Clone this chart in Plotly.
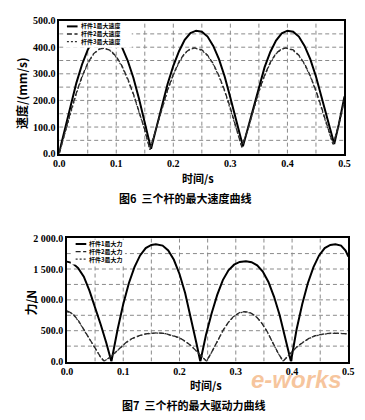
import plotly.graph_objects as go

W, H = 365, 420

# ---------------- data: 图6 velocity (mm/s) ----------------
t_v1 = [0, 0.01, 0.02, 0.03, 0.04, 0.05, 0.06, 0.07, 0.08, 0.09, 0.10, 0.11, 0.12, 0.13, 0.14, 0.15, 0.161,
        0.17, 0.18, 0.19, 0.20, 0.21, 0.22, 0.23, 0.24, 0.25, 0.26, 0.27, 0.28, 0.29, 0.30, 0.31, 0.322,
        0.33, 0.34, 0.35, 0.36, 0.37, 0.38, 0.39, 0.40, 0.41, 0.42, 0.43, 0.44, 0.45, 0.46, 0.47, 0.482, 0.49, 0.50]
v1 = [5, 95, 185, 265, 335, 390, 428, 452, 460, 455, 435, 400, 350, 285, 205, 115, 18,
      95, 180, 262, 330, 385, 428, 453, 462, 458, 440, 405, 355, 290, 210, 125, 28,
      90, 170, 255, 325, 382, 425, 452, 462, 458, 440, 405, 355, 290, 210, 130, 36, 110, 215]

t_v2 = [0, 0.01, 0.02, 0.03, 0.04, 0.05, 0.06, 0.07, 0.077, 0.08, 0.09, 0.10, 0.11, 0.12, 0.13, 0.14, 0.15, 0.159,
        0.17, 0.18, 0.19, 0.20, 0.21, 0.22, 0.23, 0.237, 0.24, 0.25, 0.26, 0.27, 0.28, 0.29, 0.30, 0.31, 0.32,
        0.33, 0.34, 0.35, 0.36, 0.37, 0.38, 0.39, 0.397, 0.40, 0.41, 0.42, 0.43, 0.44, 0.45, 0.46, 0.47, 0.48, 0.49, 0.50]
v2 = [0, 80, 158, 228, 290, 340, 375, 393, 397, 396, 388, 365, 330, 282, 225, 160, 90, 15,
      95, 170, 240, 298, 345, 378, 394, 397, 396, 390, 370, 338, 293, 237, 172, 100, 25,
      88, 162, 235, 295, 343, 377, 394, 397, 396, 390, 370, 338, 293, 237, 172, 100, 35, 110, 205]
v3 = [0, 78, 155, 225, 287, 338, 373, 392, 396, 395, 386, 362, 327, 279, 222, 157, 88, 14,
      92, 167, 237, 295, 342, 376, 393, 396, 395, 388, 368, 335, 290, 234, 169, 97, 24,
      85, 159, 232, 292, 340, 375, 393, 396, 395, 388, 368, 335, 290, 234, 169, 97, 33, 107, 200]

# ---------------- data: 图7 force (N) ----------------
t_f1 = [0, 0.01, 0.02, 0.03, 0.04, 0.05, 0.06, 0.07, 0.079,
        0.09, 0.10, 0.11, 0.12, 0.13, 0.14, 0.15, 0.158, 0.17, 0.18, 0.19, 0.20, 0.21, 0.22, 0.23, 0.237,
        0.247, 0.257, 0.267, 0.277, 0.287, 0.297, 0.307, 0.318, 0.328, 0.338, 0.348, 0.358, 0.368, 0.378, 0.388, 0.398,
        0.408, 0.418, 0.428, 0.438, 0.448, 0.458, 0.468, 0.477, 0.487, 0.495, 0.50]
f1 = [1620, 1595, 1515, 1375, 1150, 890, 600, 300, 0,
      520, 930, 1270, 1530, 1720, 1840, 1890, 1900, 1880, 1800, 1650, 1420, 1110, 730, 300, 0,
      430, 780, 1080, 1320, 1480, 1570, 1615, 1625, 1610, 1560, 1460, 1290, 1050, 750, 390, 0,
      520, 930, 1270, 1530, 1720, 1840, 1890, 1900, 1880, 1800, 1700]

t_f2 = [0, 0.01, 0.02, 0.03, 0.04, 0.05, 0.06, 0.066, 0.075, 0.085, 0.095, 0.105, 0.115, 0.125,
        0.14, 0.16, 0.175, 0.19, 0.20, 0.21, 0.22, 0.23, 0.24, 0.248,
        0.257, 0.267, 0.277, 0.287, 0.297, 0.307, 0.316, 0.325, 0.335, 0.345, 0.355, 0.365, 0.375, 0.384,
        0.392, 0.40, 0.41, 0.42, 0.43, 0.44, 0.455, 0.47, 0.485, 0.50]
f2 = [820, 780, 670, 520, 370, 220, 70, 5, 60, 140, 230, 310, 370, 410,
      450, 465, 455, 420, 385, 330, 260, 170, 70, 5,
      150, 330, 500, 640, 740, 795, 810, 795, 740, 640, 500, 320, 140, 5,
      90, 160, 250, 320, 375, 415, 445, 460, 460, 450]
f3 = [810, 772, 662, 515, 365, 215, 68, 8, 58, 137, 226, 305, 365, 405,
      447, 462, 452, 417, 382, 327, 258, 168, 68, 6,
      148, 326, 496, 636, 736, 790, 805, 790, 736, 636, 496, 318, 138, 6,
      88, 158, 248, 318, 372, 412, 442, 457, 458, 448]

# axis ranges / tick steps (labels: 0.0..0.5, 0.0..500.0, 0.0..2 000.0)
t_range, t_step, t_minor = [0, 0.5], 0.1, 0.05
v_range, v_step, v_minor = [0, 500], 100, 50
f_range, f_step, f_minor = [0, 2000], 500, 250

v_names = ["杆件1最大速度", "杆件2最大速度", "杆件3最大速度"]
f_names = ["杆件1最大力", "杆件2最大力", "杆件3最大力"]

# ---------------- figure ----------------
def px(x):
    return x / W

def py(y):
    return 1 - y / H

CJK = "Noto Sans CJK SC"
styles = [dict(color="black", width=2.0, dash="solid"),
          dict(color="#222", width=1.3, dash="5px,2.5px"),
          dict(color="#333", width=1.2, dash="2px,2px")]

fig = go.Figure()

# dashed grid at every minor step, built from the axis ranges, drawn first (under the curves)
def grid_trace(xr, xs, yr, ys, xa, ya):
    gx, gy = [], []
    n = int(round((xr[1] - xr[0]) / xs))
    for i in range(1, n):
        x = xr[0] + i * xs
        gx += [x, x, None]
        gy += [yr[0], yr[1], None]
    m = int(round((yr[1] - yr[0]) / ys))
    for j in range(1, m):
        y = yr[0] + j * ys
        gx += [xr[0], xr[1], None]
        gy += [y, y, None]
    fig.add_trace(go.Scatter(x=gx, y=gy, mode="lines", xaxis=xa, yaxis=ya, showlegend=False,
                             hoverinfo="skip", line=dict(color="#8a8a8a", width=1, dash="4px,3px")))

grid_trace(t_range, t_minor, v_range, v_minor, "x", "y")
grid_trace(t_range, t_minor, f_range, f_minor, "x2", "y2")

for tt, vv, st in [(t_v1, v1, styles[0]), (t_v2, v2, styles[1]), (t_v2, v3, styles[2])]:
    fig.add_trace(go.Scatter(x=tt, y=vv, mode="lines", line=st, xaxis="x", yaxis="y", showlegend=False))
for tt, vv, st in [(t_f1, f1, styles[0]), (t_f2, f2, styles[1]), (t_f2, f3, styles[2])]:
    fig.add_trace(go.Scatter(x=tt, y=vv, mode="lines", line=st, xaxis="x2", yaxis="y2", showlegend=False))

def axis(domain, rng, step, fmt, anchor):
    return dict(domain=domain, range=rng, tickmode="linear", tick0=0, dtick=step, tickformat=fmt,
                anchor=anchor, showline=True, linecolor="black", linewidth=1.5, mirror=True,
                zeroline=False, ticks="", showgrid=False,
                tickfont=dict(family="Liberation Serif", size=10, color="black", weight="bold"))

fig.update_layout(
    width=W, height=H, margin=dict(l=0, r=0, t=0, b=0),
    paper_bgcolor="white", plot_bgcolor="white", separators=". ",
    xaxis=axis([px(55), px(350)], t_range, t_step, ".1f", "y"),
    yaxis=axis([py(152), py(15)], v_range, v_step, ".1f", "x"),
    xaxis2=axis([px(63), px(354)], t_range, t_step, ".1f", "y2"),
    yaxis2=axis([py(366), py(239)], f_range, f_step, ",.1f", "x2"),
)

shapes = []
annots = []

def txt(x, y, s, size=11, angle=0, anchor="center", weight="bold", family=CJK, color="black"):
    annots.append(dict(x=px(x), y=py(y), xref="paper", yref="paper", text=s, showarrow=False,
                       xanchor=anchor, yanchor="middle", textangle=angle, borderpad=0,
                       font=dict(family=family, size=size, color=color, weight=weight)))

# manual legends: white box, line samples, one multi-line text block
def legend(x0, x1, y0, y1, rows, sx0, sx1, tx, names, size):
    shapes.append(dict(type="rect", xref="paper", yref="paper", x0=px(x0), x1=px(x1), y0=py(y1), y1=py(y0),
                       fillcolor="white", line=dict(width=0), layer="above"))
    for ry, st in zip(rows, styles):
        shapes.append(dict(type="line", xref="paper", yref="paper", x0=px(sx0), x1=px(sx1), y0=py(ry), y1=py(ry),
                           line=st, layer="above"))
    txt(tx, rows[1], "<br>".join(names), size=size, anchor="left")

legend(60, 130, 16.5, 43, [21, 28.8, 36.6], 63, 74, 77, v_names, 6)
legend(67, 123, 240.5, 266, [245, 252.8, 260.6], 72, 83, 85, f_names, 6)

# axis titles and captions
txt(16, 90, "速度/(mm/s)", size=12, angle=-90)
txt(199, 177, "时间/s", size=11)
txt(185, 198, "图6  三个杆的最大速度曲线", size=11)
txt(25, 305, "力/N", size=12, angle=-90)
txt(207, 390, "时间/s", size=11)
txt(194, 411, "图7  三个杆的最大驱动力曲线", size=11)

# watermark
annots.append(dict(x=px(300), y=py(384), xref="paper", yref="paper", text="<b><i>e-works</i></b>",
                   showarrow=False, xanchor="center", yanchor="middle", borderpad=0,
                   font=dict(family="Liberation Sans", size=24, color="rgba(238,140,60,0.5)")))

fig.update_layout(shapes=shapes, annotations=annots)
fig.write_html("out.html")
